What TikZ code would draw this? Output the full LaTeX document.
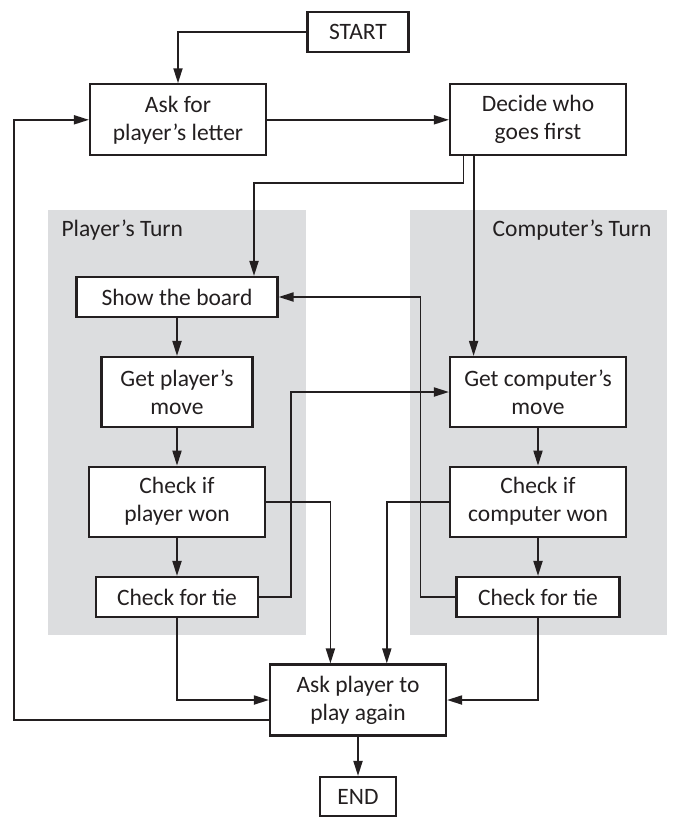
\documentclass[tikz,border=0pt]{standalone}
\usepackage{fontspec}
\setmainfont{Carlito}
\usepackage{tikz}
\usetikzlibrary{arrows.meta}
\usetikzlibrary{calc,shapes}

\definecolor{zone}{RGB}{220,221,223}
\definecolor{encre}{RGB}{35,31,32}
\tikzset{
  boite/.style={draw=encre,fill=white,line width=2.1pt,align=center,inner sep=0pt,
    text=encre,font=\fontsize{23.5}{28}\selectfont},
  fleche/.style={-{Triangle[length=15pt,width=9pt]},line width=1.8pt,draw=encre},
  titre/.style={text=encre,font=\fontsize{23.5}{28}\selectfont}
}

\begin{document}
\begin{tikzpicture}[x=1pt,y=-1pt]
\useasboundingbox (0,0) rectangle (685,830);
			% Zones
\fill [zone] (47.6,210) rectangle (306,635);
\fill [zone] (409.7,210) rectangle (667,635);
\node [titre,anchor=west] (tp) at (58,230) {Player’s Turn};
\node [titre,anchor=east] (tc) at (655,230) {Computer’s Turn};
			% Boites
\node [boite,minimum width=101pt,minimum height=40pt] (start) at (358,32.3) {START};
\node [boite,minimum width=176pt,minimum height=71pt] (ask) at (178,119.8) {Ask for\\player’s letter};
\node [boite,minimum width=176pt,minimum height=71pt] (decide) at (538,119.8) {Decide who\\goes first};
\node [boite,minimum width=201pt,minimum height=40pt] (show) at (177,297) {Show the board};
\node [boite,minimum width=151pt,minimum height=70pt] (getp) at (177,392) {Get player’s\\move};
\node [boite,minimum width=176pt,minimum height=70pt] (getc) at (538,392) {Get computer’s\\move};
\node [boite,minimum width=176pt,minimum height=70pt] (chkp) at (177,501.7) {Check if\\player won};
\node [boite,minimum width=176pt,minimum height=70pt] (chkc) at (538,501.7) {Check if\\computer won};
\node [boite,minimum width=162pt,minimum height=40pt] (tiep) at (177,597) {Check for tie};
\node [boite,minimum width=163pt,minimum height=40pt] (tiec) at (538,597) {Check for tie};
\node [boite,minimum width=176pt,minimum height=71pt] (again) at (358,700) {Ask player to\\play again};
\node [boite,minimum width=76pt,minimum height=39pt] (endn) at (358,796.5) {END};
			% Flèches
\draw [fleche] (start) -| (ask);
\draw [fleche] (ask) -- (decide);
\draw [fleche] ([xshift=-74.6pt]decide.south) -- ++(0,26.4) -| ([xshift=77pt]show.north);
\draw [fleche] ([xshift=-64.4pt]decide.south) -- ([xshift=-64.4pt]getc.north);
\draw [fleche] (show) -- (getp);
\draw [fleche] (getp) -- (chkp);
\draw [fleche] (chkp) -- (tiep);
\draw [fleche] (getc) -- (chkc);
\draw [fleche] (chkc) -- (tiec);
\draw [fleche] (chkp) -| ([xshift=-27.6pt]again.north);
\draw [fleche] (chkc) -| ([xshift=28.8pt]again.north);
\draw [fleche] (tiep.east) -- ++(31.7,0) |- (getc.west);
\draw [fleche] (tiec.west) -- ++(-35,0) |- (show.east);
\draw [fleche] (tiep) |- (again);
\draw [fleche] (tiec) |- (again);
\draw [fleche] ([yshift=-20pt]again.west) -- ++(-254.6,0) |- (ask.west);
\draw [fleche] (again) -- (endn);
			\end{tikzpicture}
\end{document}
